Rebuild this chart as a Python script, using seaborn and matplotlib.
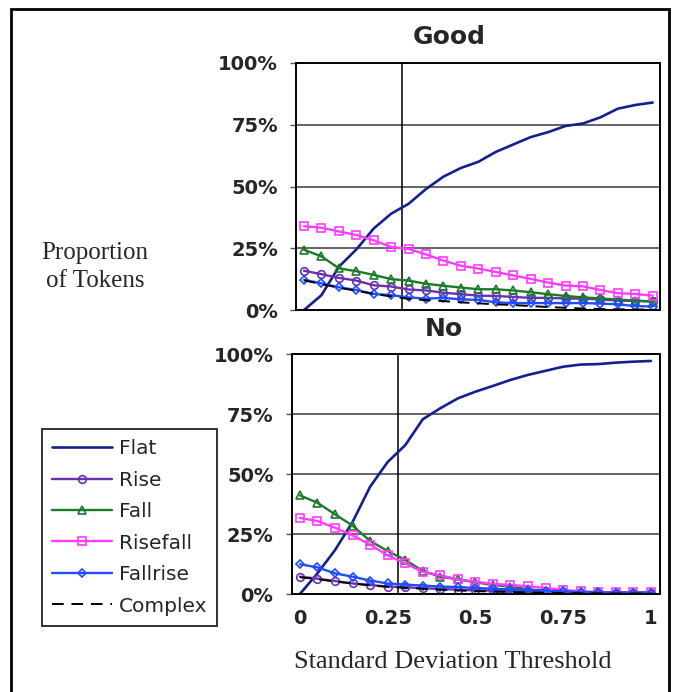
import numpy as np
import pandas as pd
import seaborn as sns
import matplotlib
matplotlib.use("Agg")
import matplotlib.pyplot as plt
from matplotlib.patches import Rectangle

# Thresholds on the x axis (standard deviation threshold)
thresholds = [round(0.05 * i, 2) for i in range(21)]

# Proportion of tokens (%) per contour type, "Good" panel
good_flat = [0, 6, 17.5, 24.5, 33, 39, 43, 49, 54, 57.5, 60, 64, 67, 70, 72, 74.5, 75.5, 78, 81.5, 83, 84]
good_rise = [15.9, 14.5, 13, 11.9, 10, 9.5, 8.3, 7.9, 7, 6.4, 5.8, 5.7, 5.3, 4.9, 4.9, 4.7, 4.6, 4.3, 3.8, 3.7, 3.5]
good_fall = [24.4, 21.7, 16.9, 15.7, 14.2, 12.5, 11.9, 10.6, 9.8, 9.1, 8.4, 8.4, 7.9, 7.2, 6.4, 5.7, 5.1, 4.7, 4.2, 3.8, 3.4]
good_risefall = [33.9, 33.3, 31.8, 30.4, 28.2, 25.5, 24.7, 22.5, 20, 17.9, 16.8, 15.4, 14, 12.6, 11.1, 9.9, 9.6, 8.1, 6.8, 6.5, 5.8]
good_fallrise = [12.2, 10.8, 9.2, 8.1, 6.5, 6, 5.1, 4.6, 4.9, 4.3, 4.1, 3.1, 2.8, 2.8, 2.8, 2.8, 2.8, 2.6, 2.3, 1.6, 1.4]
good_complex = [12, 10.5, 9, 7.8, 6.5, 5.5, 4.5, 4, 3.6, 3.1, 2.7, 2.3, 2, 1.6, 1.2, 0.9, 0.6, 0.4, 0.3, 0.2, 0.2]

# Proportion of tokens (%) per contour type, "No" panel
no_flat = [0, 8.6, 18.3, 30, 44.7, 55, 62, 72.8, 77.4, 81.5, 84.3, 86.7, 89.2, 91.3, 93, 94.7, 95.6, 95.8, 96.4, 96.8, 97.1]
no_rise = [7.2, 6.4, 5.4, 4.4, 3.75, 3.1, 2.8, 2.4, 2.1, 1.8, 1.5, 1.4, 1.1, 1.0, 0.8, 0.7, 0.6, 0.6, 0.6, 0.6, 0.6]
no_fall = [41.1, 38, 33.2, 28.5, 22.1, 17.9, 14.2, 9.6, 7.2, 6.1, 4.9, 3.75, 3.1, 1.9, 1.4, 1, 0.7, 0.7, 0.6, 0.6, 0.6]
no_risefall = [31.7, 30.4, 27.6, 24.4, 20.6, 16.1, 12.8, 9.2, 7.8, 6.1, 5.1, 4.2, 3.75, 3.2, 2.5, 1.7, 1.1, 0.8, 0.7, 0.7, 0.7]
no_fallrise = [12.4, 11.1, 8.6, 7.2, 5.6, 4.4, 3.9, 3.5, 3.1, 2.9, 2.5, 2.2, 1.9, 1.7, 1.4, 1.1, 0.8, 0.7, 0.6, 0.6, 0.6]
no_complex = [7, 6.2, 5.2, 4.4, 3.6, 3, 2.6, 2.2, 1.8, 1.5, 1.2, 1, 0.8, 0.6, 0.5, 0.4, 0.3, 0.3, 0.2, 0.2, 0.2]

contour_types = ["Flat", "Rise", "Fall", "Risefall", "Fallrise", "Complex"]
y_ticks = [0, 0.25, 0.5, 0.75, 1.0]
y_tick_labels = ["0%", "25%", "50%", "75%", "100%"]
x_ticks = [0, 0.25, 0.5, 0.75, 1]
x_tick_labels = ["0", "0.25", "0.5", "0.75", "1"]
THRESHOLD = 0.28

panels = {
    "Good": [good_flat, good_rise, good_fall, good_risefall, good_fallrise, good_complex],
    "No": [no_flat, no_rise, no_fall, no_risefall, no_fallrise, no_complex],
}

styles = {
    "Flat": dict(color="#14208f", marker=None, lw=1.9, dash=None),
    "Rise": dict(color="#6a30b0", marker="o", lw=1.7, dash=None),
    "Fall": dict(color="#1b7a2a", marker="^", lw=1.7, dash=None),
    "Risefall": dict(color="#ff3cff", marker="s", lw=1.7, dash=None),
    "Fallrise": dict(color="#1f4cff", marker="D", lw=1.7, dash=None),
    "Complex": dict(color="black", marker=None, lw=1.4, dash=(6, 4)),
}
marker_sizes = {"o": 5.5, "^": 5.5, "s": 5.3, "D": 4.0}

sns.set_theme(style="white")
plt.rcParams["font.family"] = ["DejaVu Sans"]

fig = plt.figure(figsize=(6.73, 6.92), dpi=100)
W, H = 673, 692

def fig_box(x0, y0, x1, y1):
    return [x0 / W, 1 - y1 / H, (x1 - x0) / W, (y1 - y0) / H]

ax_good = fig.add_axes(fig_box(296, 63, 660, 310))
ax_no = fig.add_axes(fig_box(291.5, 354, 660, 594))
xlims = {"Good": (-0.023, 1.021), "No": (-0.024, 1.026)}

for name, ax in (("Good", ax_good), ("No", ax_no)):
    df = pd.DataFrame({"threshold": thresholds})
    for ctype, vals in zip(contour_types, panels[name]):
        df[ctype] = np.array(vals) / 100.0
    long = df.melt(id_vars="threshold", var_name="type", value_name="prop")
    for ctype in contour_types:
        st = styles[ctype]
        sub = long[long["type"] == ctype]
        sns.lineplot(data=sub, x="threshold", y="prop", ax=ax, color=st["color"],
                     lw=st["lw"], label=ctype, legend=False)
        line = ax.lines[-1]
        if st["marker"]:
            line.set_marker(st["marker"])
            line.set_markersize(marker_sizes[st["marker"]])
            line.set_markerfacecolor("none")
            line.set_markeredgecolor(st["color"])
            line.set_markeredgewidth(1.2)
        if st["dash"]:
            line.set_dashes(st["dash"])

    ax.set_xlim(*xlims[name])
    ax.set_ylim(0, 1)
    ax.set_xlabel("")
    ax.set_ylabel("")
    for yv in y_ticks[1:-1]:
        ax.axhline(yv, color="#3a3a3a", lw=1.1, zorder=0)
    ax.axvline(THRESHOLD, color="black", lw=1.1, zorder=0)
    ax.set_yticks(y_ticks)
    ax.set_yticklabels(y_tick_labels, fontsize=14, fontweight="bold")
    ax.tick_params(axis="y", direction="out", length=4.5, width=1, pad=8.5,
                   left=True, color="#555555")
    ax.set_xticks(x_ticks)
    if name == "No":
        ax.set_xticklabels(x_tick_labels, fontsize=14, fontweight="bold")
    else:
        ax.set_xticklabels([])
    ax.tick_params(axis="x", length=0, pad=10.5)
    for sp in ax.spines.values():
        sp.set_visible(True)
        sp.set_color("black")
        sp.set_linewidth(1.4)

# Panel titles
fig.text(449 / W, 1 - 37.5 / H, "Good", ha="center", va="center", fontsize=18, fontweight="bold")
fig.text(444 / W, 1 - 329 / H, "No", ha="center", va="center", fontsize=18, fontweight="bold")

# Axis titles in a serif face
fig.text(95 / W, 1 - 267 / H, "Proportion\nof Tokens", ha="center", va="center",
         fontsize=18, family="Liberation Serif", linespacing=1.3)
fig.text(294 / W, 1 - 668 / H, "Standard Deviation Threshold", ha="left", va="baseline",
         fontsize=19, family="Liberation Serif")

# Legend box on the left
handles, labels = ax_no.get_legend_handles_labels()
leg = fig.legend(handles, labels, loc="upper left",
                 bbox_to_anchor=(42 / W, 1 - 429 / H), bbox_transform=fig.transFigure,
                 fontsize=14.5, frameon=True, fancybox=False, handlelength=3.0,
                 handletextpad=0.3, labelspacing=0.62, borderpad=0.5,
                 borderaxespad=0)
leg.get_frame().set_edgecolor("black")
leg.get_frame().set_linewidth(1.4)

# Outer frame around the whole figure
fig.patches.append(Rectangle((11 / W, -0.05), (669 - 11) / W, 1 - 9 / H + 0.05,
                             transform=fig.transFigure, fill=False,
                             edgecolor="black", lw=2.0))

fig.savefig("out.png", dpi=100)
